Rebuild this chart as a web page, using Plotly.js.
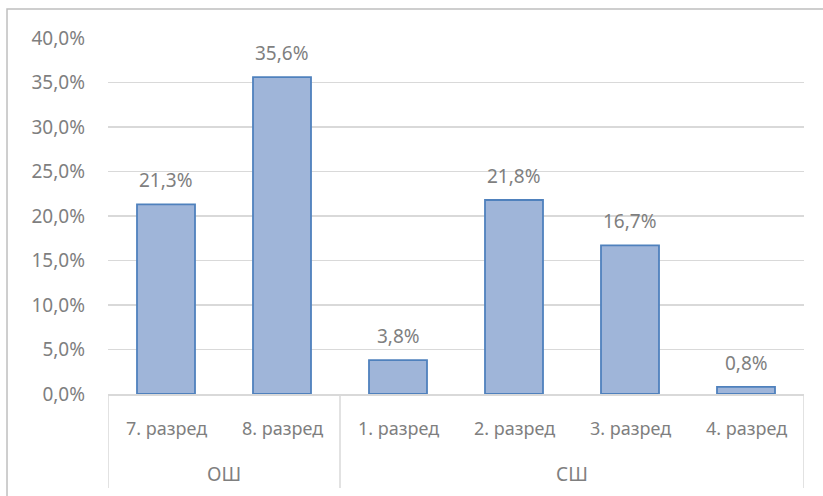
<!DOCTYPE html>
<html><head><meta charset="utf-8">
<script src="https://cdn.plot.ly/plotly-3.0.1.min.js"></script>
<style>html,body{margin:0;padding:0;background:#fff;}#chart{width:823px;height:496px;}</style>
</head><body><div id="chart"></div>
<script>
const groups = ['ОШ','ОШ','СШ','СШ','СШ','СШ'];
const grades = ['7. разред','8. разред','1. разред','2. разред','3. разред','4. разред'];
const values = [0.213, 0.356, 0.038, 0.218, 0.167, 0.008];
const yTicks = [0,0.05,0.10,0.15,0.20,0.25,0.30,0.35,0.40];

const font = "'Noto Sans', 'Open Sans', sans-serif";
const grey = '#7f7f7f';
const lineCol = '#d9d9d9';

const trace = {
  type: 'bar',
  x: grades,
  y: values,
  width: 0.5,
  marker: {color: '#9fb5d9', line: {color: '#4f81bd', width: 1.8}},
  hoverinfo: 'skip'
};

// data labels above bars
const annotations = values.map((v, i) => ({
  x: grades[i], y: v, xref: 'x', yref: 'y',
  text: (v * 100).toFixed(1).replace('.', ',') + '%',
  showarrow: false, yanchor: 'bottom', yshift: 9,
  font: {family: font, size: 19, color: grey}
}));

// category labels
grades.forEach(g => annotations.push({
  x: g, y: -0.0955, xref: 'x', yref: 'paper', text: g,
  showarrow: false, yanchor: 'middle',
  font: {family: font, size: 18, color: grey}
}));

// group labels and dividers
const shapes = [];
const bounds = [];
let start = 0;
for (let i = 1; i <= groups.length; i++) {
  if (i === groups.length || groups[i] !== groups[start]) {
    annotations.push({
      x: (start + i - 1) / 2, y: -0.2247, xref: 'x', yref: 'paper', text: groups[start],
      showarrow: false, yanchor: 'middle',
      font: {family: font, size: 19, color: grey}
    });
    if (start === 0) bounds.push(start - 0.5);
    bounds.push(i - 0.5);
    start = i;
  }
}
bounds.forEach(b => shapes.push({
  type: 'line', xref: 'x', yref: 'paper', x0: b, x1: b, y0: 0, y1: -0.264,
  line: {color: lineCol, width: 1.5}
}));

// outer chart frame
shapes.push({
  type: 'rect', xref: 'paper', yref: 'paper',
  x0: -0.1451, x1: 1.1, y0: -0.35, y1: 1.0815,
  line: {color: '#bfbfbf', width: 1.5}, fillcolor: 'rgba(0,0,0,0)', layer: 'below'
});

const layout = {
  width: 823, height: 496,
  separators: ', ',
  margin: {l: 108, r: 19, t: 38, b: 102},
  paper_bgcolor: '#fff', plot_bgcolor: '#fff',
  showlegend: false,
  font: {family: font, size: 18, color: grey},
  xaxis: {
    type: 'category', range: [-0.5, grades.length - 0.5],
    showline: true, linecolor: lineCol, linewidth: 1.5,
    showgrid: false, ticks: '', showticklabels: false
  },
  yaxis: {
    range: [0, 0.4], tickvals: yTicks, tickformat: '.1%',
    showgrid: true, gridcolor: lineCol, gridwidth: 1.5,
    zeroline: false, showline: false, ticks: '',
    ticklabelstandoff: 22,
    tickfont: {family: font, size: 19, color: grey}
  },
  annotations: annotations,
  shapes: shapes
};

Plotly.newPlot('chart', [trace], layout, {displayModeBar: false, staticPlot: true});
</script></body></html>
